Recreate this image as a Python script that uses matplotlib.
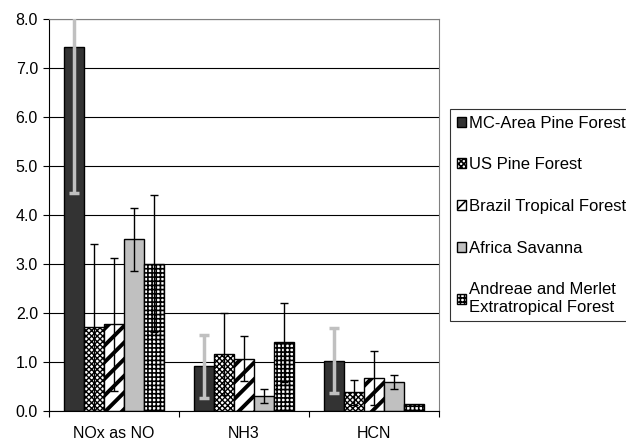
import numpy as np
import matplotlib
matplotlib.use("Agg")
import matplotlib.pyplot as plt

plt.rcParams['font.family'] = ['Liberation Sans', 'DejaVu Sans']
plt.rcParams['hatch.color'] = 'black'

categories = ["NOx as NO", "NH3", "HCN"]
series = ["MC-Area Pine Forest", "US Pine Forest", "Brazil Tropical Forest",
          "Africa Savanna", "Andreae and Merlet\nExtratropical Forest"]

# values per series: NOx, NH3, HCN
mc_area = [7.43, 0.91, 1.03]
us_pine = [1.71, 1.17, 0.38]
brazil = [1.77, 1.07, 0.68]
africa = [3.50, 0.30, 0.59]
andreae = [3.01, 1.40, 0.15]

mc_area_err = [2.98, 0.65, 0.66]
us_pine_err = [1.70, 0.84, 0.25]
brazil_err = [1.36, 0.46, 0.55]
africa_err = [0.65, 0.14, 0.15]
andreae_err = [1.40, 0.80, 0.0]

values = [mc_area, us_pine, brazil, africa, andreae]
errors = [mc_area_err, us_pine_err, brazil_err, africa_err, andreae_err]
colors = ['#333333', 'white', 'white', '#c0c0c0', 'white']
hatches = [None, 'xxxxxx', '//', None, '++++']
hatch_lw = [1.0, 1.0, 2.8, 1.0, 1.2]

fig = plt.figure(figsize=(6.26, 4.43), dpi=100)
ax = fig.add_axes([49/626, 32/443, 390/626, 392/443])

x = np.arange(len(categories))
w = 1 / 6.5
for i, (vals, errs) in enumerate(zip(values, errors)):
    pos = x + (i - 2) * w
    plt.rcParams['hatch.linewidth'] = hatch_lw[i]
    ax.bar(pos, vals, w, color=colors[i], edgecolor='black', linewidth=1,
           hatch=hatches[i], label=series[i], zorder=2)
    if i == 0:
        ax.errorbar(pos, vals, yerr=errs, fmt='none', ecolor='#c0c0c0',
                    elinewidth=2.5, capsize=3.5, capthick=2.5, zorder=3)
    else:
        e = np.array(errs)
        ax.errorbar(pos[e > 0], np.array(vals)[e > 0], yerr=e[e > 0], fmt='none',
                    ecolor='black', elinewidth=1, capsize=3, capthick=1, zorder=3)

ax.set_xlim(-0.5, 2.5)
ax.set_ylim(0, 8)
ax.set_yticks(np.arange(0, 8.1, 1.0))
ax.set_yticklabels([f"{v:.1f}" for v in np.arange(0, 8.1, 1.0)], fontsize=11.5)
ax.yaxis.grid(True, color='black', linewidth=0.8, zorder=0)
ax.set_axisbelow(True)

ax.set_xticks([-0.5, 0.5, 1.5, 2.5])
ax.set_xticklabels([])
ax.set_xticks(x, minor=True)
ax.set_xticklabels(categories, minor=True, fontsize=11.5)
ax.tick_params(axis='x', which='minor', length=0, pad=11)
ax.tick_params(axis='x', which='major', length=4, direction='out')
ax.tick_params(axis='y', length=4, direction='out', pad=4)

ax.spines['top'].set_color('#808080')
ax.spines['right'].set_color('#808080')

leg = fig.legend(loc='upper left', bbox_to_anchor=(450/626, 1 - 109/443),
                 fontsize=12, frameon=True, fancybox=False, edgecolor='black',
                 handlelength=0.55, handleheight=0.55, handletextpad=0.2,
                 labelspacing=1.6, borderpad=0.4, borderaxespad=0)
leg.get_frame().set_linewidth(0.8)

fig.savefig("out.png", dpi=100)
